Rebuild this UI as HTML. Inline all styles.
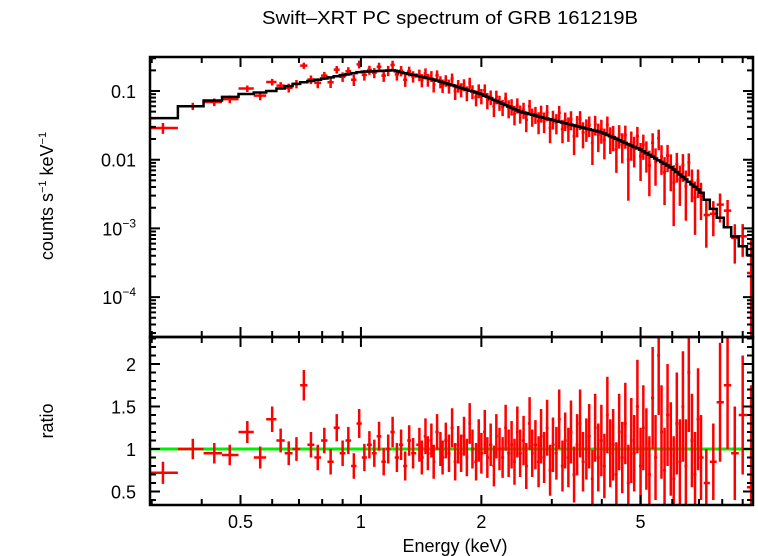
<!DOCTYPE html>
<html><head><meta charset="utf-8">
<style>
html,body{margin:0;padding:0;background:#fff;}
svg{display:block;font-family:"Liberation Sans",sans-serif;}
</style></head>
<body>
<svg id="chart" width="758" height="556" viewBox="0 0 758 556" xmlns="http://www.w3.org/2000/svg">
<text x="262" y="24" font-size="18" textLength="376" lengthAdjust="spacingAndGlyphs">Swift–XRT PC spectrum of GRB 161219B</text>
<text transform="translate(53,196) rotate(-90)" font-size="18" text-anchor="middle">counts s<tspan font-size="11" dy="-7">−1</tspan><tspan dy="7"> keV</tspan><tspan font-size="11" dy="-7">−1</tspan></text>
<text transform="translate(53,421) rotate(-90)" font-size="18" text-anchor="middle">ratio</text>
<text x="455" y="552" font-size="18" text-anchor="middle">Energy (keV)</text>
<g id="g-top"></g>
<g id="g-bot"></g>
<g id="g-axes"></g>
</svg>
<script>
// ---- data ----
const energies = [0.32,0.38,0.43,0.47,0.52,0.56,0.60,0.63,0.66,0.69,0.72,0.75,0.78,0.81,0.84,0.87,0.90,0.93,0.96,0.99,1.02,1.05,1.08,1.11,1.14,1.17,1.20,1.23,1.26,1.29,1.32,1.35,
1.40,1.42,1.45,1.47,1.50,1.52,1.55,1.58,1.60,1.63,1.66,1.69,1.72,1.75,1.78,1.81,1.84,1.87,1.90,1.94,1.97,2.00,2.04,2.07,2.11,2.15,2.18,2.22,2.26,2.30,2.34,2.38,2.42,2.46,2.50,2.55,2.59,2.64,2.68,2.73,2.78,2.82,2.87,2.92,2.97,3.02,3.08,3.13,3.19,3.24,3.30,3.35,3.41,3.47,3.53,3.59,3.66,3.72,3.79,3.85,3.92,3.99,4.06,4.13,4.20,4.27,4.35,4.42,4.50,4.58,4.66,4.74,4.82,4.91,5.00,5.08,5.17,5.26,5.36,5.45,5.55,5.64,5.74,5.84,5.95,6.05,6.16,6.27,6.38,6.49,6.60,6.72,6.84,6.96,7.08,
7.30,7.60,7.90,8.25,8.60,9.00,9.45];
const ratios = [0.72,1.0,0.95,0.93,1.2,0.9,1.35,1.1,0.95,1.0,1.75,1.05,0.9,1.1,0.85,1.25,0.95,1.1,0.8,1.3,0.9,1.05,0.95,1.15,0.85,1.0,1.2,0.9,1.05,0.8,1.1,0.95,
1.05,0.9,1.15,0.95,1.1,0.85,1.2,1.0,0.9,1.1,
0.95,1.25,0.85,1.05,0.95,1.15,0.9,1.3,1.0,0.85,
1.1,0.95,1.2,0.9,1.05,0.8,1.15,1.0,0.9,1.25,
0.95,1.05,0.85,1.2,0.95,1.1,0.8,1.3,0.95,1.05,
0.85,1.15,0.9,1.25,0.75,1.05,0.95,1.35,0.8,1.1,
0.9,1.2,0.7,1.05,1.3,0.85,1.0,1.15,0.65,1.25,
0.9,1.1,0.8,1.4,0.95,1.05,0.7,1.2,0.9,1.3,
0.6,1.1,0.95,1.5,0.8,1.25,1.0,0.7,1.6,0.9,
2.1,1.2,0.75,1.4,1.0,0.65,1.3,0.85,1.5,0.8,
1.9,1.1,0.7,1.35,0.9,
0.6,0.85,1.55,1.75,0.95,1.4,0.55];
const ratioErrs = [0.13,0.12,0.12,0.12,0.13,0.13,0.15,0.14,0.14,0.14,0.18,0.15,0.15,0.15,0.15,0.16,0.15,0.16,0.15,0.17,0.16,0.16,0.16,0.17,0.16,0.17,0.18,0.17,0.18,0.17,0.18,0.18,
0.2,0.2,0.21,0.2,0.2,0.2,0.21,0.2,0.2,0.21,
0.22,0.23,0.22,0.22,0.22,0.23,0.22,0.24,0.23,0.22,
0.25,0.24,0.26,0.24,0.25,0.24,0.26,0.25,0.24,0.27,
0.28,0.28,0.27,0.3,0.28,0.29,0.27,0.31,0.28,0.29,
0.3,0.32,0.3,0.33,0.3,0.32,0.31,0.35,0.3,0.33,
0.35,0.37,0.33,0.36,0.4,0.35,0.36,0.38,0.34,0.4,
0.4,0.42,0.38,0.45,0.4,0.42,0.38,0.45,0.42,0.48,
0.45,0.5,0.45,0.55,0.45,0.5,0.48,0.45,0.6,0.5,
0.7,0.55,0.5,0.6,0.55,0.5,0.6,0.5,0.65,0.55,
0.7,0.55,0.5,0.6,0.5,
0.4,0.45,0.7,0.75,0.55,0.7,1.2];
const modelE = [0.30,0.35,0.40,0.45,0.50,0.60,0.70,0.80,1.00,1.20,1.50,2.00,2.50,3.00,4.00,5.00,6.00,7.00,8.00,9.00,9.60];
const modelV = [0.033,0.053,0.065,0.078,0.088,0.100,0.130,0.150,0.190,0.200,0.150,0.090,0.050,0.038,0.025,0.014,0.0075,0.0036,0.0013,0.00055,0.00037];
const xTicks = [0.5,1,2,5];
const xTickLabels = ["0.5","1","2","5"];
const yTopTicks = [0.1,0.01,0.001,0.0001];
const yTopLabels = ["0.1","0.01","10|−3","10|−4"];
const yBotTicks = [0.5,1,1.5,2];
const yBotLabels = ["0.5","1","1.5","2"];

// ---- layout ----
const L=150,R=753,T=57,M=337,B=505;
const xMin=0.297,xMax=9.55;
const X=e=>L+(Math.log10(e)-Math.log10(xMin))/(Math.log10(xMax)-Math.log10(xMin))*(R-L);
const Yt=v=>91-(Math.log10(v)+1)*68.7;
const Yb=r=>449-(r-1)*85;
const NS="http://www.w3.org/2000/svg";
function mk(tag,attrs,parent){const el=document.createElementNS(NS,tag);for(const k in attrs)el.setAttribute(k,attrs[k]);parent.appendChild(el);return el;}
function modelAt(e){
  const le=Math.log10(e);
  for(let i=0;i<modelE.length-1;i++){
    if(e<=modelE[i+1]){const a=Math.log10(modelE[i]),b=Math.log10(modelE[i+1]);const t=(le-a)/(b-a);
      return Math.pow(10,Math.log10(modelV[i])+t*(Math.log10(modelV[i+1])-Math.log10(modelV[i])));}
  }
  return modelV[modelV.length-1];
}
const gt=document.getElementById('g-top'),gb=document.getElementById('g-bot'),ga=document.getElementById('g-axes');
const edges=[];
for(let i=0;i<energies.length;i++){
  const lo=i===0?0.298:Math.sqrt(energies[i-1]*energies[i]);
  const hi=i===energies.length-1?9.9:Math.sqrt(energies[i]*energies[i+1]);
  edges.push([lo,hi]);
}
const defs=mk('defs',{},document.getElementById('chart'));
const c1=mk('clipPath',{id:'ct'},defs);mk('rect',{x:L,y:T,width:R-L,height:M-T},c1);
const c2=mk('clipPath',{id:'cb'},defs);mk('rect',{x:L,y:M,width:R-L,height:B-M},c2);
gt.setAttribute('clip-path','url(#ct)');gb.setAttribute('clip-path','url(#cb)');
const gl=mk('line',{x1:L,x2:R,y1:Yb(1),y2:Yb(1),stroke:'#00ee00','stroke-width':3},gb);


energies.forEach((e,i)=>{
  const m=modelAt(e),r=ratios[i],er=ratioErrs[i];
  const c=m*r,ce=m*er;
  const x0=X(edges[i][0]),x1=X(edges[i][1]),xc=X(e);
  const lo=c-ce>0?Yt(c-ce):M+5;
  const p=mk('path',{d:`M${x0},${Yt(c)}H${x1}M${xc},${Yt(c+ce)}V${lo}`,stroke:'#ff0000','stroke-width':2.5,fill:'none'},gt);
  
  
  const q=mk('path',{d:`M${x0},${Yb(r)}H${x1}M${xc},${Yb(r+er)}V${Yb(Math.max(r-er,0))}`,stroke:'#ff0000','stroke-width':2.5,fill:'none'},gb);
  
  
});
let d='';
energies.forEach((e,i)=>{const y=Yt(modelAt(e));d+=(i===0?`M${X(edges[i][0])},${y}`:`V${y}`)+`H${X(edges[i][1])}`;});
const mp=mk('path',{d:d,stroke:'#000','stroke-width':2.5,fill:'none'},gt);


[[T,M],[M,B]].forEach(([a,b])=>{const f=mk('rect',{x:L,y:a,width:R-L,height:b-a,fill:'none',stroke:'#000','stroke-width':2.5},ga);

});
let tk='';
const minors=[0.3,0.4,0.5,0.6,0.7,0.8,0.9,1,2,3,4,5,6,7,8,9];
minors.forEach(v=>{const x=X(v);const len=xTicks.includes(v)?10:6;
  tk+=`M${x},${T}v${len}M${x},${M}v${-len}M${x},${M}v${len}M${x},${B}v${-len}`;});
for(let p=-5;p<0;p++){for(let k=1;k<10;k++){const v=k*Math.pow(10,p);const y=Yt(v);if(y<T||y>M)continue;const len=k===1?10:6;tk+=`M${L},${y}h${len}M${R},${y}h${-len}`;}}
for(let k=4;k<=23;k++){const v=k/10;const y=Yb(v);if(y<M||y>B)continue;const len=(k%5===0)?10:6;tk+=`M${L},${y}h${len}M${R},${y}h${-len}`;}
const tp=mk('path',{d:tk,stroke:'#000','stroke-width':2,fill:'none'},ga);


xTicks.forEach((v,i)=>{const t=mk('text',{x:X(v),y:528,'font-size':18,'text-anchor':'middle'},ga);t.textContent=xTickLabels[i];

});
yTopTicks.forEach((v,i)=>{const t=mk('text',{x:136,y:Yt(v)+7,'font-size':18,'text-anchor':'end'},ga);
  const parts=yTopLabels[i].split('|');
  if(parts.length===1)t.textContent=parts[0];else{const a=mk('tspan',{},t);a.textContent=parts[0];const b=mk('tspan',{'font-size':12,dy:-8},t);b.textContent=parts[1];}
  
  });
yBotTicks.forEach((v,i)=>{const t=mk('text',{x:136,y:Yb(v)+7,'font-size':18,'text-anchor':'end'},ga);t.textContent=yBotLabels[i];

});
</script>
</body></html>
